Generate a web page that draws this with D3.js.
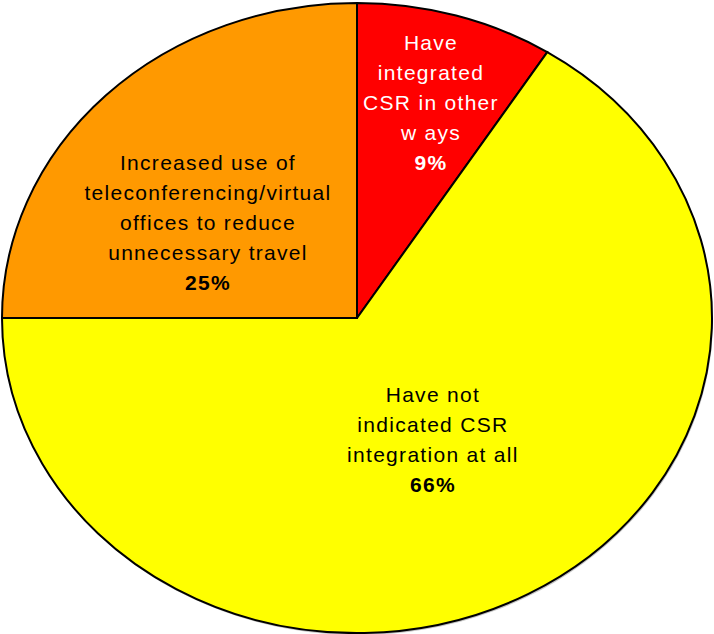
<!DOCTYPE html>
<html>
<head>
<meta charset="utf-8">
<script src="https://cdn.jsdelivr.net/npm/d3@7"></script>
<style>
html,body{margin:0;padding:0;background:#fff;}
svg{display:block;}
</style>
</head>
<body>
<svg id="chart" width="714" height="634"></svg>
<script>
const categories = [
  ["Have", "integrated", "CSR in other", "w ays"],
  ["Have not", "indicated CSR", "integration at all"],
  ["Increased use of", "teleconferencing/virtual", "offices to reduce", "unnecessary travel"]
];
const values = [9, 66, 25];
const percentLabels = ["9%", "66%", "25%"];
const colors = ["#FF0000", "#FFFF00", "#FF9900"];
const textColors = ["#FFFFFF", "#000000", "#000000"];

const W = 714, H = 634;
const cx = 357, cy = 318, rx = 355, ry = 315;
// label placement (radial factor, angle tweak) per slice
const labelPos = [[0.716, 0.01], [0.44, 0], [0.52, -0.16]];

const svg = d3.select("#chart");
const pie = d3.pie().sort(null).value(d => d)(values);
const arc = d3.arc().innerRadius(0).outerRadius(1);

const g = svg.append("g").attr("transform", `translate(${cx},${cy}) scale(${rx},${ry})`);

// subtle shadow
svg.append("ellipse").lower()
  .attr("cx", cx + 1).attr("cy", cy + 2).attr("rx", rx).attr("ry", ry)
  .attr("fill", "#888").attr("opacity", 0.5);

g.selectAll("path").data(pie).join("path")
  .attr("d", arc)
  .attr("fill", (d, i) => colors[i])
  .attr("stroke", "#000")
  .attr("stroke-width", 2)
  .attr("vector-effect", "non-scaling-stroke")
  .attr("stroke-linejoin", "miter");

const lineH = 30, fs = 21, ls = 1.3;
pie.forEach((d, i) => {
  const a = (d.startAngle + d.endAngle) / 2 + labelPos[i][1];
  const f = labelPos[i][0];
  const x = cx + rx * f * Math.sin(a) + ls / 2;
  const y = cy - ry * f * Math.cos(a);
  const lines = categories[i].concat([percentLabels[i]]);
  const n = lines.length;
  const t = svg.append("text")
    .attr("text-anchor", "middle")
    .attr("font-family", "'Liberation Sans', Arial, sans-serif")
    .attr("font-size", fs)
    .attr("letter-spacing", ls)
    .attr("fill", textColors[i]);
  lines.forEach((ln, j) => {
    t.append("tspan")
      .attr("x", x)
      .attr("y", y + (j - (n - 1) / 2) * lineH + fs * 0.36)
      .attr("font-weight", j === n - 1 ? "bold" : "normal")
      .text(ln);
  });
});
</script>
</body>
</html>
